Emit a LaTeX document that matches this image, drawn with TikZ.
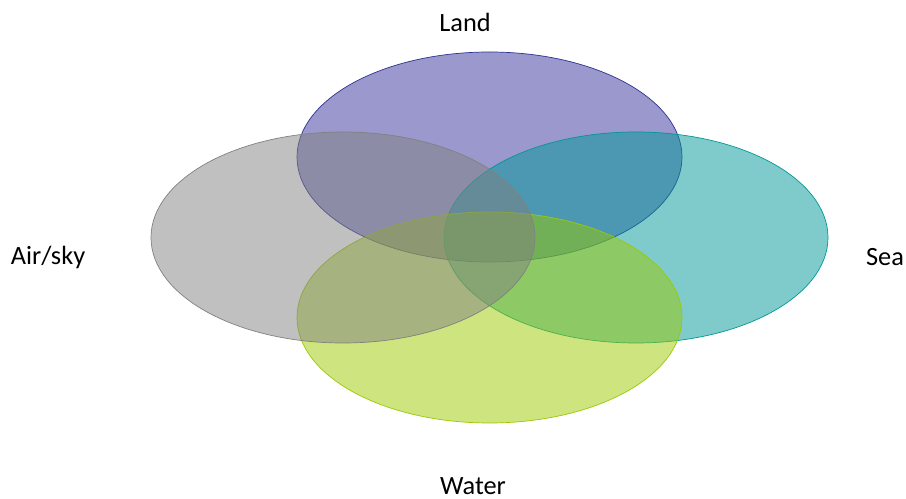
\documentclass[tikz,border=0pt]{standalone}
\usepackage{fontspec}
\setmainfont{Carlito}
\definecolor{landc}{RGB}{53,49,153}
\definecolor{landl}{RGB}{46,49,146}
\definecolor{airc}{RGB}{129,129,129}
\definecolor{seac}{RGB}{0,151,151}
\definecolor{waterc}{RGB}{155,201,0}

\begin{document}
\begin{tikzpicture}[x=0.02cm, y=-0.02cm,
    venn/.style={fill opacity=.5, draw opacity=1, thin},
    lbl/.style={font=\fontsize{15}{17}\selectfont, text=black, inner sep=0pt}]
    \useasboundingbox (0,0) rectangle (906,499);
    \filldraw [venn, draw=landl, fill=landc] (489.5,157) ellipse (192.5 and 105);
    \filldraw [venn, draw=seac, fill=seac] (636,237.5) ellipse (192 and 105.5);
    \filldraw [venn, draw=waterc, fill=waterc] (489.5,317.5) ellipse (192.5 and 105.5);
    \filldraw [venn, draw=airc, fill=airc] (343,237.5) ellipse (192 and 105.5);
    \node [lbl] (land) at (465,22) {Land};
    \node [lbl] (air) at (48,257) {Air/sky};
    \node [lbl] (sea) at (885,257) {Sea};
    \node [lbl] (water) at (473,486) {Water};
\end{tikzpicture}
\end{document}
